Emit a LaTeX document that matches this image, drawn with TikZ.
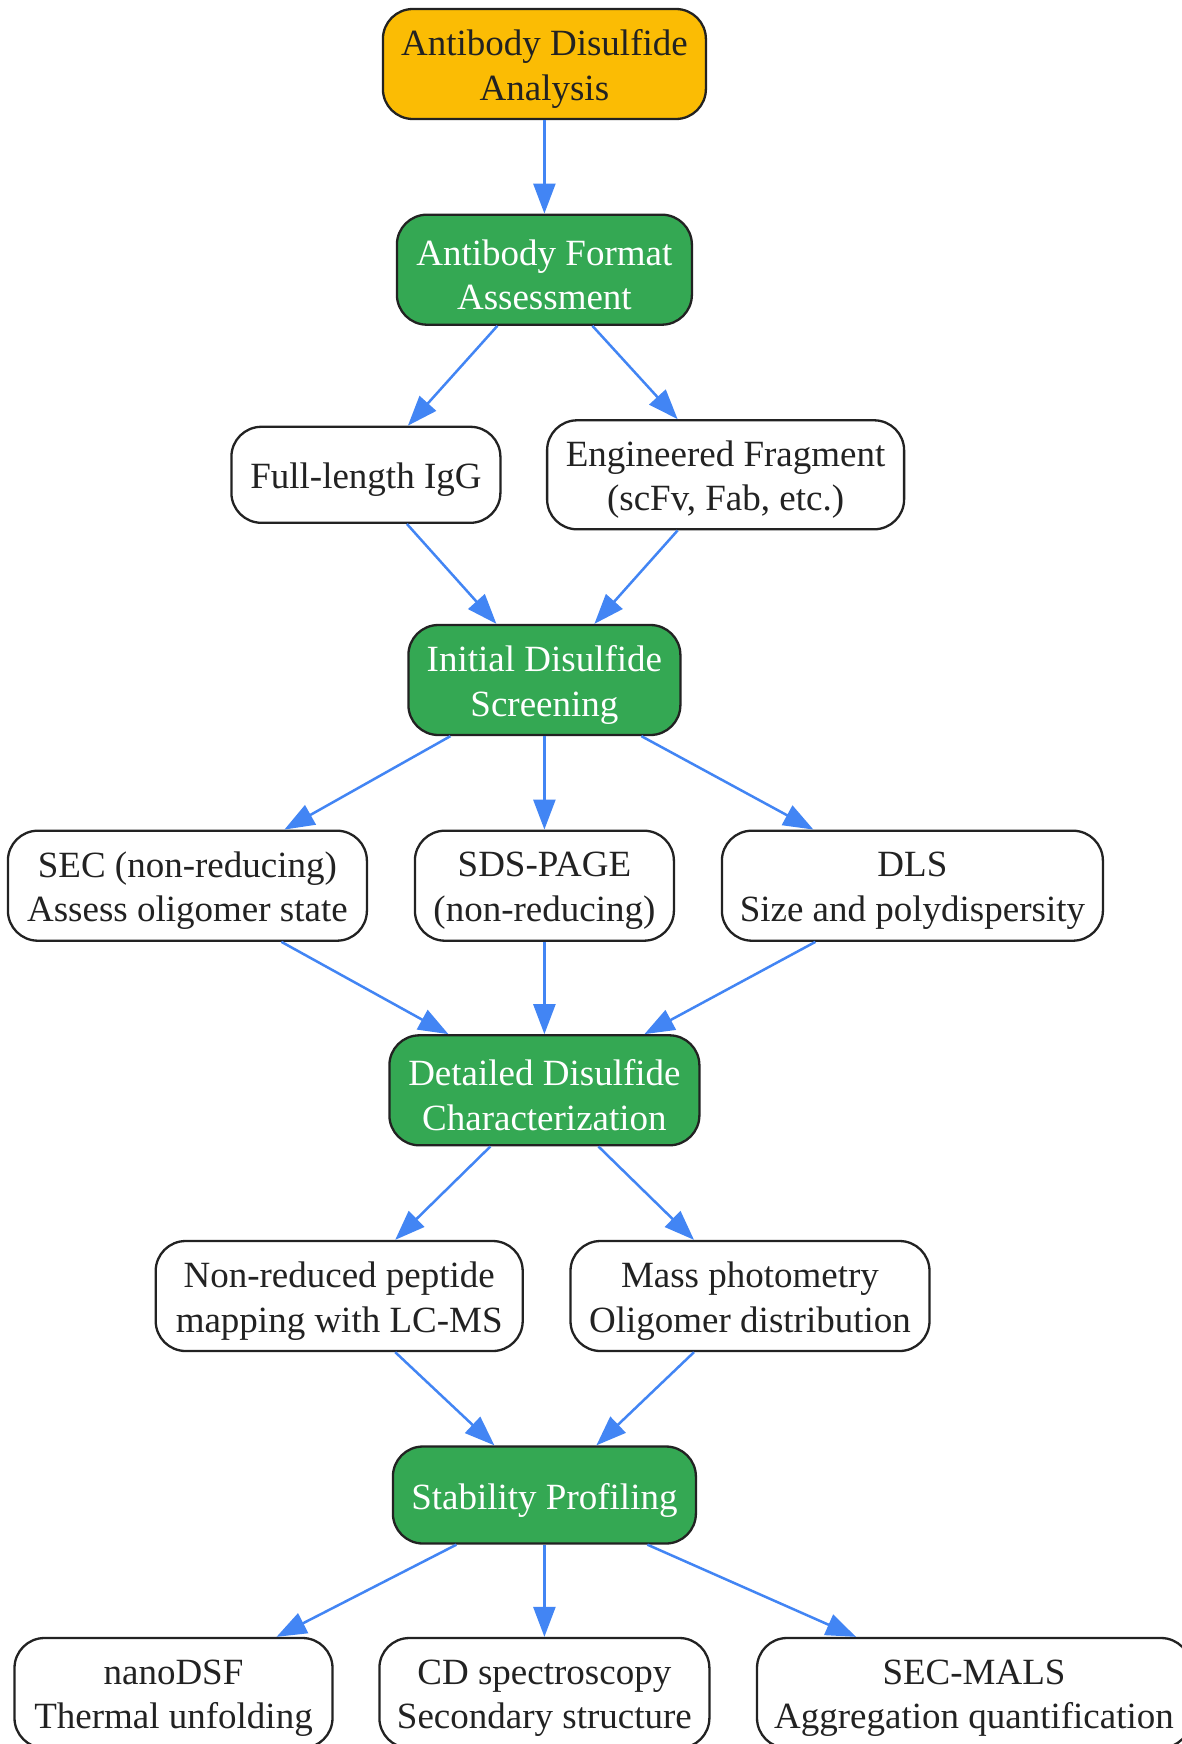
\documentclass[tikz,border=0pt]{standalone}
\usepackage{fontspec}
\setmainfont{Liberation Serif}
\usetikzlibrary{arrows.meta,calc}
\definecolor{cOrange}{HTML}{FBBC04}
\definecolor{cGreen}{HTML}{34A853}
\definecolor{cBlue}{HTML}{4285F4}
\definecolor{cText}{HTML}{222222}
\definecolor{cLine}{HTML}{222222}
\tikzset{
  box/.style={draw=cLine, line width=2.3pt, rounded corners=30pt, inner sep=0pt},
  lbl/.style={align=center, inner sep=0pt, text=cText, yshift=-5pt,
    font=\fontsize{37}{44.5}\selectfont},
  wlbl/.style={lbl, text=white},
  plainbox/.style={box, fill=white},
  greenbox/.style={box, fill=cGreen},
  rootbox/.style={box, fill=cOrange},
  conn/.style={draw=cBlue, line width=2.5pt, -{Triangle[length=30pt,width=22pt]}},
}
\begin{document}
\begin{tikzpicture}[x=1pt,y=-1pt]
\useasboundingbox (0,0) rectangle (1181,1744);
\fill[white] (0,0) rectangle (1181,1744);

\node[rootbox, minimum width=323pt, minimum height=110pt, label={[lbl]center:{Antibody Disulfide\\Analysis}}] (root) at (544.4,64) {};
\node[greenbox, minimum width=295pt, minimum height=110pt, label={[wlbl]center:{Antibody Format\\Assessment}}] (fmt) at (544.4,269.7) {};
\node[plainbox, minimum width=269pt, minimum height=96pt, label={[lbl]center:{Full-length IgG}}] (igg) at (365.9,474.8) {};
\node[plainbox, minimum width=357pt, minimum height=109pt, label={[lbl]center:{Engineered Fragment\\(scFv, Fab, etc.)}}] (frag) at (725.6,474.8) {};
\node[greenbox, minimum width=272pt, minimum height=110pt, label={[wlbl]center:{Initial Disulfide\\Screening}}] (init) at (544.4,680) {};
\node[plainbox, minimum width=359pt, minimum height=110pt, label={[lbl]center:{SEC (non-reducing)\\Assess oligomer state}}] (sec) at (187.4,885.7) {};
\node[plainbox, minimum width=259pt, minimum height=110pt, label={[lbl]center:{SDS-PAGE\\(non-reducing)}}] (sds) at (544.4,885.7) {};
\node[plainbox, minimum width=381pt, minimum height=110pt, label={[lbl]center:{DLS\\Size and polydispersity}}] (dls) at (912.4,885.7) {};
\node[greenbox, minimum width=310pt, minimum height=110pt, label={[wlbl]center:{Detailed Disulfide\\Characterization}}] (det) at (544.4,1090.3) {};
\node[plainbox, minimum width=367pt, minimum height=110pt, label={[lbl]center:{Non-reduced peptide\\mapping with LC-MS}}] (nonred) at (339.2,1296) {};
\node[plainbox, minimum width=359pt, minimum height=110pt, label={[lbl]center:{Mass photometry\\Oligomer distribution}}] (mass) at (750,1296) {};
\node[greenbox, minimum width=303pt, minimum height=97pt, label={[wlbl]center:{Stability Profiling}}] (stab) at (544.4,1495) {};
\node[plainbox, minimum width=318pt, minimum height=110pt, label={[lbl]center:{nanoDSF\\Thermal unfolding}}] (nano) at (173.5,1693) {};
\node[plainbox, minimum width=330pt, minimum height=110pt, label={[lbl]center:{CD spectroscopy\\Secondary structure}}] (cd) at (544.4,1693) {};
\node[plainbox, minimum width=434pt, minimum height=110pt, label={[lbl]center:{SEC-MALS\\Aggregation quantification}}] (mals) at (974,1693) {};

\draw[conn] (root.south) -- (fmt.north);
\draw[conn] ([xshift=-47pt]fmt.south) -- ([xshift=42pt]igg.north);
\draw[conn] ([xshift=48pt]fmt.south) -- ([xshift=-48pt]frag.north);
\draw[conn] ([xshift=41pt]igg.south) -- ([xshift=-48pt]init.north);
\draw[conn] ([xshift=-48pt]frag.south) -- ([xshift=50pt]init.north);
\draw[conn] ([xshift=-94pt]init.south) -- ([xshift=97pt]sec.north);
\draw[conn] (init.south) -- (sds.north);
\draw[conn] ([xshift=97pt]init.south) -- ([xshift=-99pt]dls.north);
\draw[conn] ([xshift=94pt]sec.south) -- ([xshift=-96pt]det.north);
\draw[conn] (sds.south) -- (det.north);
\draw[conn] ([xshift=-97pt]dls.south) -- ([xshift=100pt]det.north);
\draw[conn] ([xshift=-54pt]det.south) -- ([xshift=56pt]nonred.north);
\draw[conn] ([xshift=54pt]det.south) -- ([xshift=-56pt]mass.north);
\draw[conn] ([xshift=56pt]nonred.south) -- ([xshift=-50pt]stab.north);
\draw[conn] ([xshift=-56pt]mass.south) -- ([xshift=52pt]stab.north);
\draw[conn] ([xshift=-88pt]stab.south) -- ([xshift=103pt]nano.north);
\draw[conn] (stab.south) -- (cd.north);
\draw[conn] ([xshift=103pt]stab.south) -- ([xshift=-118pt]mals.north);
\end{tikzpicture}
\end{document}
